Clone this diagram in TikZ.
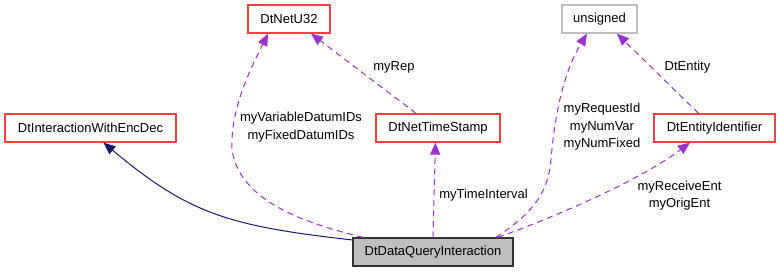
\documentclass[tikz,border=0pt]{standalone}
\usepackage{fontspec}
\setmainfont{Liberation Sans}
\usetikzlibrary{arrows.meta,calc}
\definecolor{edgepurple}{HTML}{9A32CD}
\definecolor{edgenavy}{HTML}{191970}
\definecolor{boxred}{HTML}{FF4040}
\definecolor{boxgray}{HTML}{BFBFBF}
\begin{document}
\begin{tikzpicture}[x=1pt,y=1pt,
  font=\fontsize{13}{17.5}\selectfont,
  cls/.style={draw=boxred,line width=1.3pt,minimum height=28pt,inner sep=0pt,fill=white},
  extcls/.style={draw=boxgray,line width=1.3pt,minimum height=28pt,inner sep=0pt,fill=white},
  maincls/.style={draw=black!80,line width=1.3pt,minimum height=28pt,inner sep=0pt,fill=boxgray},
  usage/.style={draw=edgepurple,line width=1pt,dash pattern=on 6pt off 4.5pt,
     -{Triangle[length=12pt,width=10pt,fill=edgepurple]}},
  inherit/.style={draw=edgenavy,line width=1pt,
     -{Triangle[length=12pt,width=10pt,fill=edgenavy]}},
  lbl/.style={align=center,inner sep=0pt}]
\useasboundingbox (0,0) rectangle (780,272);
% nodes
\node[cls,minimum width=171pt] (enc) at (90.5,144) {DtInteractionWithEncDec};
\node[cls,minimum width=82pt] (u32) at (289,253) {DtNetU32};
\node[cls,minimum width=124pt] (ts) at (438,144) {DtNetTimeStamp};
\node[extcls,minimum width=75pt] (uns) at (599.5,253) {unsigned};
\node[cls,minimum width=121pt] (ent) at (714.5,144) {DtEntityIdentifier};
\node[maincls,minimum width=160pt] (q) at (433,20) {DtDataQueryInteraction};
% edges
\draw[inherit] ([yshift=12pt]q.west) .. controls (230,46) and (190,57) .. ([xshift=13pt]enc.south);
\draw[usage] ([xshift=-70pt]q.north) .. controls (300,50) and (240,72) .. (232,122)
   .. controls (230,162) and (250,202) .. ([xshift=-21pt]u32.south);
\draw[usage] ([xshift=-22pt]ts.north) -- ([xshift=22pt]u32.south);
\draw[usage] (q.north) -- ([xshift=-2.5pt]ts.south);
\draw[usage] ([xshift=63pt]q.north) .. controls (530,57) and (548,77) .. (551,112)
   .. controls (555,162) and (565,202) .. ([xshift=-12.5pt]uns.south);
\draw[usage] ([xshift=-16pt]ent.north) -- ([xshift=17.5pt]uns.south);
\draw[usage] ([xshift=65pt]q.north) .. controls (560,57) and (640,92) .. ([xshift=-24.5pt]ent.south);
% labels
\node[lbl] (l1) at (301,145) {myVariableDatumIDs\\myFixedDatumIDs};
\node[lbl] (l2) at (394,205) {myRep};
\node[lbl] (l3) at (483.5,77) {myTimeInterval};
\node[lbl] (l4) at (602,145) {myRequestId\\myNumVar\\myNumFixed};
\node[lbl] (l5) at (687.5,205) {DtEntity};
\node[lbl] (l6) at (679.5,76.5) {myReceiveEnt\\myOrigEnt};
\end{tikzpicture}
\end{document}
